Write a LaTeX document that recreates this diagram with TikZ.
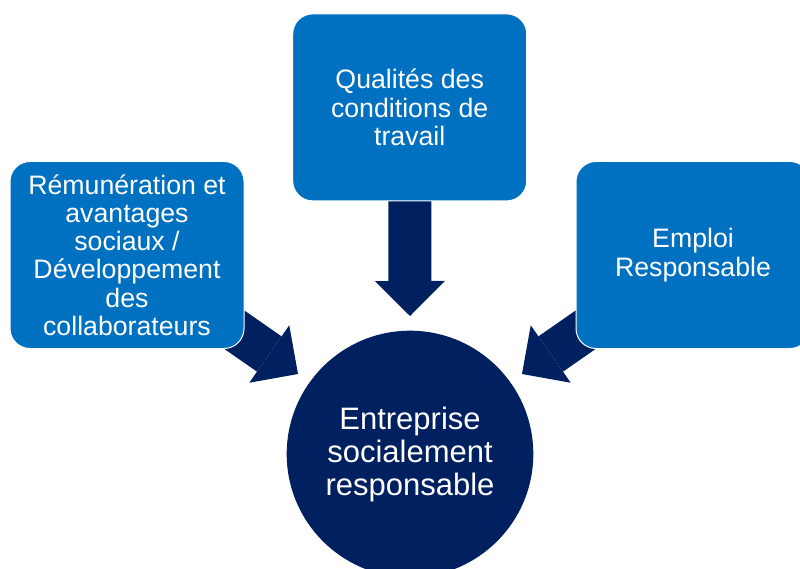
\documentclass[tikz,border=0pt]{standalone}
\usepackage{fontspec}
\setmainfont{Liberation Sans}
\usetikzlibrary{arrows.meta,backgrounds}
\definecolor{boxblue}{RGB}{0,112,192}
\definecolor{navyblue}{RGB}{0,32,96}
\tikzset{
  topicbox/.style={rectangle, rounded corners=20pt, fill=boxblue, draw=white,
    line width=1pt, minimum width=234pt, minimum height=187pt, inner sep=0pt,
    text=white, align=center, font=\fontsize{26.7}{28.2}\selectfont},
  hubcircle/.style={circle, fill=navyblue, draw=none, minimum size=246.6pt,
    inner sep=0pt, text=white, align=center, font=\fontsize{31}{33}\selectfont},
  bigarrow/.style={draw=navyblue, line width=43pt, line cap=butt,
    -{Triangle[width=70pt,length=35pt,line width=0pt]}}
}
\begin{document}
\begin{tikzpicture}[x=1pt,y=-1pt]
\useasboundingbox (0,0) rectangle (800,569);
\clip (0,0) rectangle (800,569);
\node[topicbox] (top) at (409.7,107.4) {Qualités des\\conditions de\\travail};
\node[topicbox] (left) at (127,255) {Rémunération et\\avantages\\sociaux /\\Développement\\des\\collaborateurs};
\node[topicbox] (right) at (693,255) {Emploi\\Responsable};
\node[hubcircle] (hub) at (410,454) {Entreprise\\socialement\\responsable};
\coordinate (toptip) at (410,316);
\coordinate (lefttip) at (298,374);
\coordinate (righttip) at (522,374);
\begin{scope}[on background layer]
\draw[bigarrow] (top.center) -- (toptip);
\draw[bigarrow] (left.center) -- (lefttip);
\draw[bigarrow] (right.center) -- (righttip);
\end{scope}
\end{tikzpicture}
\end{document}
